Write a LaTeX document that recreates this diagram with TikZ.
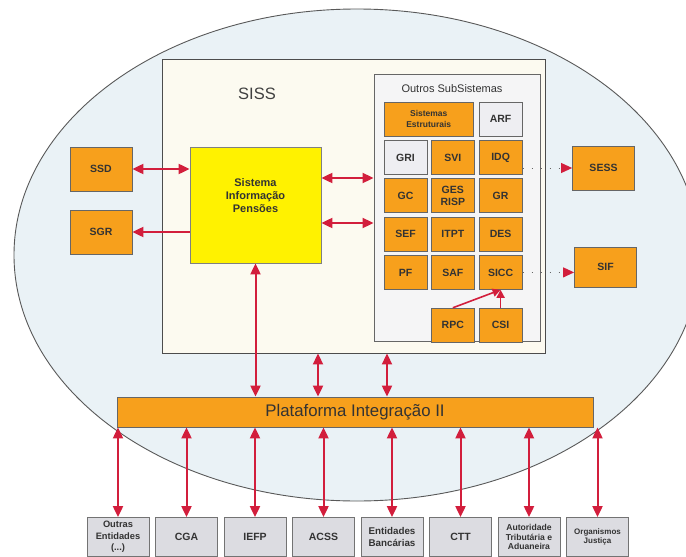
\documentclass[tikz,border=0pt]{standalone}
\usepackage{fontspec}
\setmainfont{Liberation Sans}
\usetikzlibrary{arrows.meta,positioning}

\definecolor{ellfill}{RGB}{234,242,246}
\definecolor{sissfill}{RGB}{252,250,240}
\definecolor{subfill}{RGB}{245,245,246}
\definecolor{orangebox}{RGB}{247,160,28}
\definecolor{yellowbox}{RGB}{255,242,0}
\definecolor{greybox}{RGB}{238,238,242}
\definecolor{entbox}{RGB}{220,220,225}
\definecolor{arrowred}{RGB}{210,30,60}

\begin{document}
\begin{tikzpicture}[
        x=1pt, y=-1pt,
        node distance=3.5pt,
        frame/.style={rectangle, draw=black!70, line width=0.9pt, inner sep=0pt},
        obox/.style={rectangle, draw=black!60, fill=orangebox, line width=0.8pt, minimum width=43pt, minimum height=34pt, inner sep=0pt, align=center, text=black!80, font=\bfseries\fontsize{10.5}{12.5}\selectfont},
        gbox/.style={obox, fill=greybox},
        sidebox/.style={obox, minimum width=62pt, minimum height=44pt},
        entity/.style={rectangle, draw=black!55, fill=entbox, line width=0.8pt, minimum width=62pt, minimum height=39pt, inner sep=1pt, align=center, text=black!80, font=\bfseries\fontsize{10.5}{12.5}\selectfont},
        arrow/.style={line width=2pt, draw=arrowred, >={Triangle[length=11pt,width=10pt]}},
        thinarrow/.style={line width=1.6pt, draw=arrowred, -{Triangle[length=8pt,width=8pt]}},
        dots/.style={draw=black!60, line width=1pt, dash pattern=on 1pt off 8pt, -{Triangle[length=11pt,width=10pt,color=arrowred,fill=arrowred]}}
    ]
        \useasboundingbox (0,0) rectangle (686,557);
        \begin{scope}
            \clip (0,0) rectangle (686,557);
            \draw[fill=ellfill, draw=black!65, line width=0.9pt] (357,255) ellipse [x radius=343pt, y radius=246pt];
        \end{scope}

        % SISS
        \node[frame, fill=sissfill, minimum width=383pt, minimum height=294pt] (siss) at (353.5,206) {};
        \node[text=black!75, font=\fontsize{16.5}{18}\selectfont] (sisslabel) at (257,94) {SISS};
        \node[rectangle, draw=black!50, fill=yellowbox, line width=0.8pt, minimum width=131pt, minimum height=116pt] (pensoes) at (255.5,205) {};
        \node[align=center, text=black!80, font=\bfseries\fontsize{11}{13}\selectfont] (pensoeslabel) at (255.5,196) {Sistema\\Informação\\Pensões};

        % Outros SubSistemas
        \node[frame, draw=black!60, fill=subfill, minimum width=166pt, minimum height=267pt] (outros) at (457,207.5) {};
        \node[text=black!80, font=\fontsize{11}{13}\selectfont] (outroslabel) at (452,89) {Outros SubSistemas};
        \node[gbox] (gri) at (405.5,157.5) {GRI};
        \node[obox, right=of gri] (svi) {SVI};
        \node[obox, right=4pt of svi] (idq) {IDQ};
        \node[obox, minimum width=89.5pt, above right=3.5pt and 0pt of gri.north west, font=\bfseries\fontsize{8.5}{10.5}\selectfont] (sisest) {Sistemas\\Estruturais};
        \node[gbox, above=of idq] (arf) {ARF};
        \node[obox, below=of gri] (gc) {GC};
        \node[obox, below=of svi] (gesrisp) {GES\\RISP};
        \node[obox, below=of idq] (gr) {GR};
        \node[obox, below=of gc] (sef) {SEF};
        \node[obox, below=of gesrisp] (itpt) {ITPT};
        \node[obox, below=of gr] (des) {DES};
        \node[obox, below=of sef] (pf) {PF};
        \node[obox, below=of itpt] (saf) {SAF};
        \node[obox, below=of des] (sicc) {SICC};
        \node[obox, below=18pt of saf] (rpc) {RPC};
        \node[obox, below=18pt of sicc] (csi) {CSI};

        % outside boxes
        \node[sidebox] (ssd) at (101,169) {SSD};
        \node[sidebox] (sgr) at (101,232) {SGR};
        \node[sidebox] (sess) at (603.5,168) {SESS};
        \node[sidebox, minimum height=40pt] (sif) at (605.5,267) {SIF};

        \node[obox, minimum width=476pt, minimum height=30pt, font=\fontsize{16.8}{19}\selectfont] (plat) at (355,412) {Plataforma Integração II};

        % entities
        \node[entity, font=\bfseries\fontsize{9.3}{11.3}\selectfont] (outras) at (118,537) {Outras\\Entidades\\(...)};
        \node[entity, right=5.7pt of outras] (cga) {CGA};
        \node[entity, right=5.7pt of cga] (iefp) {IEFP};
        \node[entity, right=5.7pt of iefp] (acss) {ACSS};
        \node[entity, right=5.7pt of acss, font=\bfseries\fontsize{9.8}{12}\selectfont] (bancos) {Entidades\\Bancárias};
        \node[entity, right=5.7pt of bancos] (ctt) {CTT};
        \node[entity, right=5.7pt of ctt, font=\bfseries\fontsize{8.6}{9.6}\selectfont] (at) {Autoridade\\Tributária e\\Aduaneira};
        \node[entity, right=5.7pt of at, font=\bfseries\fontsize{8}{9.5}\selectfont] (justica) {Organismos\\Justiça};

        % connectors
        \draw[arrow, <->] (ssd.east) -- (ssd.east -| pensoes.west);
        \draw[arrow, ->] (pensoes.west |- sgr.east) -- (sgr.east);
        \draw[arrow, <->] ([yshift=27pt]pensoes.east) -- ([yshift=27pt]pensoes.east -| outros.west);
        \draw[arrow, <->] ([yshift=-18pt]pensoes.east) -- ([yshift=-18pt]pensoes.east -| outros.west);
        \draw[arrow, <->] (pensoes.south) -- (pensoes.south |- plat.north);
        \draw[arrow, <->] ([xshift=-35.5pt]siss.south) -- ([xshift=-35.5pt]siss.south |- plat.north);
        \draw[arrow, <->] ([xshift=33.5pt]siss.south) -- ([xshift=33.5pt]siss.south |- plat.north);
        \foreach \e in {outras,cga,iefp,acss,bancos,ctt,at,justica}
            \draw[arrow, <->] (\e.north |- plat.south) -- (\e.north);
        \draw[thinarrow] (rpc.north) -- (sicc.south);
        \draw[thinarrow] (csi.north) -- (sicc.south);
        \draw[dots] (idq.east |- sess.west) -- (sess.west);
        \draw[dots] (sicc.east) -- (sicc.east -| sif.west);
    \end{tikzpicture}
\end{document}
